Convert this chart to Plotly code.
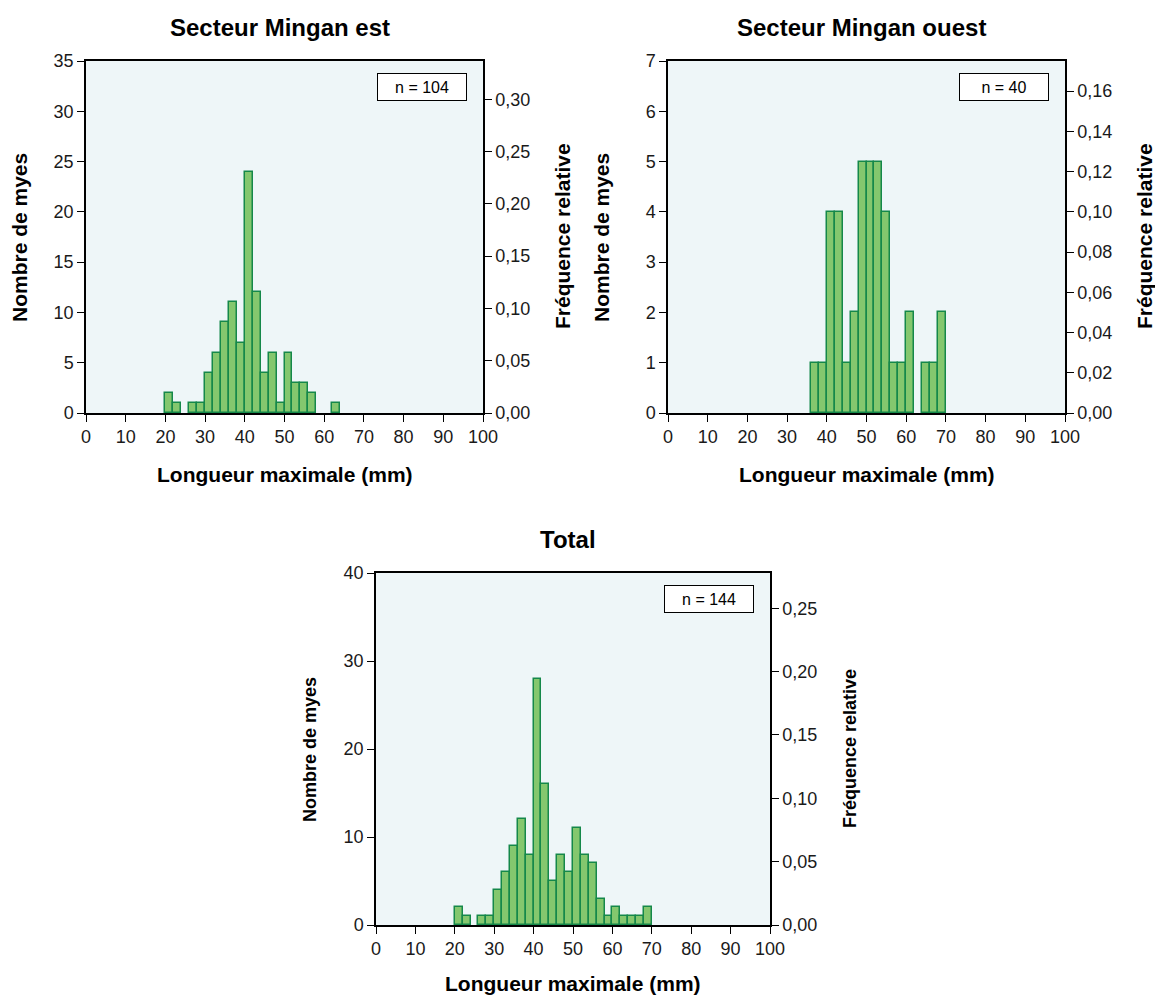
import plotly.graph_objects as go

# ---- data ----
bin_lower = [20, 22, 24, 26, 28, 30, 32, 34, 36, 38, 40, 42, 44, 46, 48,
             50, 52, 54, 56, 58, 60, 62, 64, 66, 68]
bin_width = 2
east_counts = [2, 1, 0, 1, 1, 4, 6, 9, 11, 7, 24, 12, 4, 6, 1,
               6, 3, 3, 2, 0, 0, 1, 0, 0, 0]
west_counts = [0, 0, 0, 0, 0, 0, 0, 0, 1, 1, 4, 4, 1, 2, 5,
               5, 5, 4, 1, 1, 2, 0, 1, 1, 2]
total_counts = [2, 1, 0, 1, 1, 4, 6, 9, 12, 8, 28, 16, 5, 8, 6,
                11, 8, 7, 3, 1, 2, 1, 1, 1, 2]

panel_titles = ["Secteur Mingan est", "Secteur Mingan ouest", "Total"]
n_values = [104, 40, 144]
count_max = [35, 7, 40]
count_dtick = [5, 1, 10]
rel_dtick = [0.05, 0.02, 0.05]
x_title = "Longueur maximale (mm)"
y_title = "Nombre de myes"
y2_title = "Fréquence relative"

W, H = 1155, 997
FONT = "Liberation Sans, Arial, sans-serif"
FILL = "#84C76E"
EDGE = "#15884A"
BG = "#EEF6F8"

# plot-area pixel boxes (left, right, top, bottom)
boxes = [(86, 483, 61, 413), (668, 1065, 61, 413), (376, 770, 573, 925)]

def px(x):
    return x / W

def py(y):
    return 1 - y / H

fig = go.Figure()
all_counts = [east_counts, west_counts, total_counts]

for i, counts in enumerate(all_counts):
    k = i + 1
    xa = "x" if k == 1 else f"x{k}"
    ya = "y" if k == 1 else f"y{k}"
    ya2 = f"y{k + 3}"
    ys = [c if c > 0 else None for c in counts]
    fig.add_trace(go.Bar(
        x=bin_lower, y=ys, width=bin_width, offset=0,
        marker=dict(color=FILL, line=dict(color=EDGE, width=1.5)),
        xaxis=xa, yaxis=ya, showlegend=False,
    ))
    rel = [c / n_values[i] for c in counts]
    fig.add_trace(go.Scatter(
        x=[b + bin_width / 2 for b in bin_lower], y=rel, mode="markers",
        marker=dict(opacity=0), xaxis=xa, yaxis=ya2,
        showlegend=False, hoverinfo="skip",
    ))

layout = dict(
    width=W, height=H,
    margin=dict(l=0, r=0, t=0, b=0),
    paper_bgcolor="white",
    plot_bgcolor=BG,
    separators=", ",
    font=dict(family=FONT, size=18, color="#1a1a1a"),
    bargap=0,
    showlegend=False,
)

tick_font = dict(family=FONT, size=18, color="#1a1a1a")
annotations = []
for i, (l, r, t, b) in enumerate(boxes):
    k = i + 1
    xkey = "xaxis" if k == 1 else f"xaxis{k}"
    ykey = "yaxis" if k == 1 else f"yaxis{k}"
    y2key = f"yaxis{k + 3}"
    xa = "x" if k == 1 else f"x{k}"
    ya = "y" if k == 1 else f"y{k}"
    layout[xkey] = dict(
        domain=[px(l), px(r)], range=[0, 100], dtick=10, tick0=0,
        anchor=ya, showline=True, linecolor="black", linewidth=1.5,
        mirror=True, ticks="outside", ticklen=7, tickcolor="black",
        tickwidth=1.3, showgrid=False, zeroline=False, tickfont=tick_font,
        fixedrange=True, automargin=False,
    )
    layout[ykey] = dict(
        domain=[py(b), py(t)], range=[0, count_max[i]], dtick=count_dtick[i],
        tick0=0, anchor=xa, showline=True, linecolor="black", linewidth=1.5,
        ticks="outside", ticklen=7, tickcolor="black", tickwidth=1.3,
        showgrid=False, zeroline=False, tickfont=tick_font, fixedrange=True,
        automargin=False,
    )
    layout[y2key] = dict(
        overlaying=ya, side="right", anchor=xa,
        range=[0, count_max[i] / n_values[i]], dtick=rel_dtick[i], tick0=0,
        tickformat=".2f", showline=True, linecolor="black", linewidth=1.5,
        ticks="outside", ticklen=7, tickcolor="black", tickwidth=1.3,
        showgrid=False, zeroline=False, tickfont=tick_font, fixedrange=True,
        automargin=False,
    )

    cx = (l + r) / 2
    small = (k == 3)
    # panel title
    annotations.append(dict(
        text=f"<b>{panel_titles[i]}</b>", x=px(cx - 5), y=py(t - 34),
        xref="paper", yref="paper", xanchor="center", yanchor="middle",
        showarrow=False, font=dict(family=FONT, size=24, color="black"),
    ))
    # x title
    annotations.append(dict(
        text=f"<b>{x_title}</b>", x=px(cx), y=py(b + (58 if small else 62)),
        xref="paper", yref="paper", xanchor="center", yanchor="middle",
        showarrow=False, font=dict(family=FONT, size=21, color="black"),
    ))
    # left y title
    annotations.append(dict(
        text=f"<b>{y_title}</b>", x=px(l - 66), y=py((t + b) / 2 + 1),
        xref="paper", yref="paper", xanchor="center", yanchor="middle",
        textangle=-90, showarrow=False,
        font=dict(family=FONT, size=18 if small else 21, color="black"),
    ))
    # right y title
    annotations.append(dict(
        text=f"<b>{y2_title}</b>", x=px(r + 80), y=py((t + b) / 2 - 1),
        xref="paper", yref="paper", xanchor="center", yanchor="middle",
        textangle=-90, showarrow=False,
        font=dict(family=FONT, size=18 if small else 21, color="black"),
    ))
    # n box
    annotations.append(dict(
        text=f"n = {n_values[i]}", x=px(r - 16), y=py(t + 12),
        xref="paper", yref="paper", xanchor="right", yanchor="top",
        showarrow=False, font=dict(family=FONT, size=16, color="black"),
        bgcolor="white", bordercolor="black", borderwidth=1,
        width=86, height=24, align="center",
    ))

layout["annotations"] = annotations
fig.update_layout(**layout)
fig.write_html("out.html",
               config={"displayModeBar": False},
               post_script="document.body.style.margin='0';")
